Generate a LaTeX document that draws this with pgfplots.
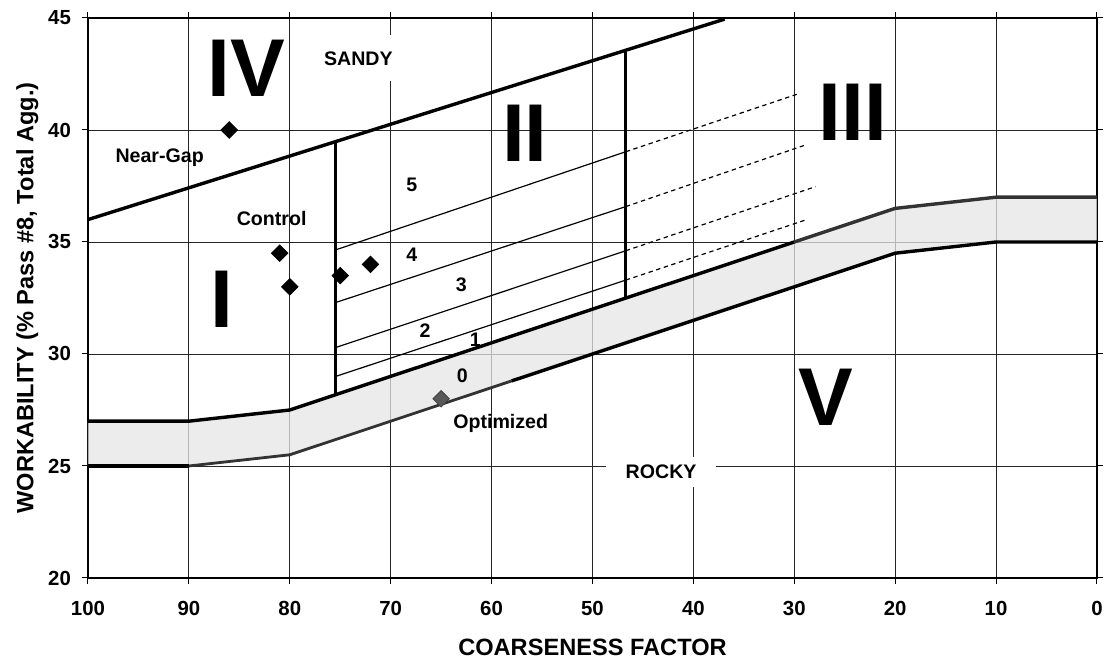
\documentclass[border=0pt]{standalone}
\usepackage{fontspec}
\setmainfont{Liberation Sans}
\usepackage{pgfplots}
\pgfplotsset{compat=1.18}

\begin{document}
\begin{tikzpicture}
\begin{axis}[
  scale only axis, width=504.5pt, height=280pt,
  x dir=reverse, xmin=0, xmax=100, ymin=20, ymax=45,
  xtick distance=10, ytick distance=5,
  grid=major, major grid style={black!85, line width=0.45pt},
  axis line style={line width=0.6pt},
  tick align=outside, major tick length=3pt,
  tick style={black, line width=0.5pt},
  x tick label style={font=\bfseries\fontsize{10.2}{11}\selectfont, yshift=-5pt},
  y tick label style={font=\bfseries\fontsize{10.2}{11}\selectfont, xshift=-2pt},
  /pgf/number format/assume math mode=true,
  xlabel={COARSENESS FACTOR},
  ylabel={WORKABILITY (\% Pass \#8, Total Agg.)},
  label style={font=\bfseries\fontsize{11.8}{13}\selectfont},
  xlabel style={yshift=-5pt},
  ylabel style={yshift=-2pt},
  clip=false,
]
% band
\addplot[draw=none, fill=black!10, fill opacity=0.75] coordinates {
 (100,27) (90,27) (80,27.5) (30,35) (20,36.5) (10,37) (0,37)
 (0,35) (10,35) (20,34.5) (30,33) (80,25.5) (90,25) (100,25)} -- cycle;
\addplot[black, line width=1.7pt] coordinates {(100,27) (90,27) (80,27.5) (30,35)};
\addplot[black!80, line width=1.7pt] coordinates {(30,35) (20,36.5) (10,37) (0,37)};
\addplot[black, line width=1.7pt] coordinates {(100,25) (90,25)};
\addplot[black!80, line width=1.4pt] coordinates {(90,25) (80,25.5) (58,28.8)};
\addplot[black, line width=1.7pt] coordinates {(58,28.8) (30,33) (20,34.5) (10,35) (0,35)};
% sandy boundary
\addplot[black, line width=1.7pt] coordinates {(100,36) (36.9,44.95)};
% verticals
\addplot[black, line width=1.5pt] coordinates {(75.5,28.18) (75.5,39.42)};
\addplot[black, line width=1.5pt] coordinates {(46.7,32.5) (46.7,43.5)};
% zone lines
\addplot[black, line width=0.6pt] coordinates {(75.5,34.64) (46.7,39.03)};
\addplot[black, line width=0.6pt] coordinates {(75.5,32.29) (46.7,36.58)};
\addplot[black, line width=0.6pt] coordinates {(75.5,30.28) (46.7,34.61)};
\addplot[black, line width=0.6pt] coordinates {(75.5,28.99) (46.7,33.30)};
\addplot[black, line width=0.6pt, dash pattern=on 2.2pt off 1.8pt] coordinates {(46.7,39.03) (29.7,41.6)};
\addplot[black, line width=0.6pt, dash pattern=on 2.2pt off 1.8pt] coordinates {(46.7,36.58) (28.9,39.33)};
\addplot[black, line width=0.6pt, dash pattern=on 2.2pt off 1.8pt] coordinates {(46.7,34.61) (27.9,37.47)};
\addplot[black, line width=0.6pt, dash pattern=on 2.2pt off 1.8pt] coordinates {(46.7,33.30) (28.9,35.98)};
% points
\addplot[only marks, mark=square*, mark size=2.9pt, mark options={rotate=45, fill=black, draw=black}]
 coordinates {(86,40) (81,34.5) (80,33) (75,33.5) (72,34)};
\addplot[only marks, mark=square*, mark size=2.9pt, mark options={rotate=45, fill=black!65, draw=black!75}]
 coordinates {(65,28)};
% labels
\begin{scope}[every node/.style={font=\bfseries\fontsize{9.8}{10}\selectfont}]
\node[fill=white, inner xsep=4pt, inner ysep=8pt] at (axis cs:73.2,43.2) {SANDY};
\node at (axis cs:92.9,38.75) {Near-Gap};
\node at (axis cs:81.8,36.05) {Control};
\node at (axis cs:59.1,26.9) {Optimized};
\node[fill=white, inner xsep=10pt, inner ysep=4pt] at (axis cs:43.2,24.75) {ROCKY};
\node at (axis cs:67.9,37.54) {5};
\node at (axis cs:67.9,34.42) {4};
\node at (axis cs:63.0,33.08) {3};
\node at (axis cs:66.6,31.03) {2};
\node at (axis cs:61.6,30.63) {1};
\node at (axis cs:62.9,29.02) {0};
\end{scope}
\begin{scope}[every node/.style={font=\bfseries\fontsize{41}{41}\selectfont, inner sep=0pt}]
\node at (axis cs:84.3,42.77) {IV};
\node at (axis cs:86.75,32.46) {I};
\node at (axis cs:56.7,39.84) {II};
\node at (axis cs:24.2,40.8) {III};
\node at (axis cs:26.9,28.06) {V};
\end{scope}
\coordinate (bl) at (rel axis cs:0,0);
\end{axis}
\path (bl) ++(-44pt,-44.5pt) rectangle ++(555pt,333.5pt);
\end{tikzpicture}
\end{document}
